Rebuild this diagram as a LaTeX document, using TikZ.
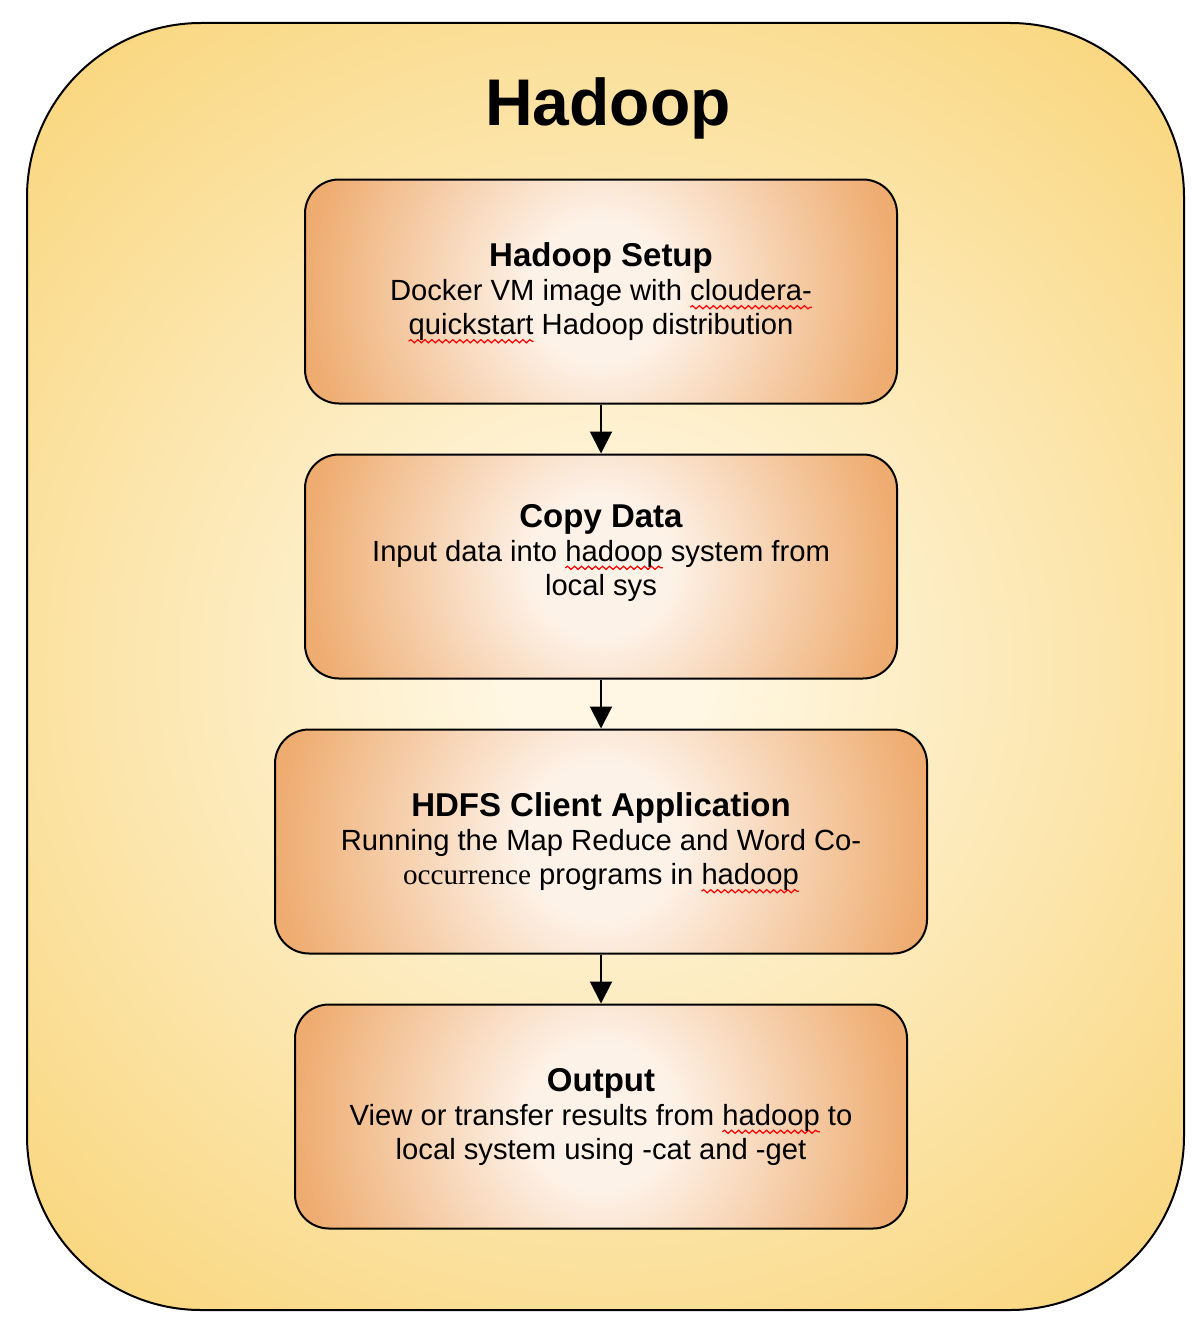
\documentclass[tikz,border=0pt]{standalone}
\usepackage{fontspec}
\setmainfont{Liberation Sans}
\newfontfamily\timesword{Liberation Serif}
\usetikzlibrary{arrows.meta,chains,positioning,decorations.pathmorphing}

\definecolor{framein}{HTML}{FFF7E3}
\definecolor{frameout}{HTML}{F9D579}
\definecolor{boxin}{HTML}{FDF2E8}
\definecolor{boxout}{HTML}{EEAC70}
\pgfdeclareradialshading{frameglow}{\pgfpoint{0bp}{0bp}}{color(0bp)=(framein); color(3bp)=(framein); color(25bp)=(frameout); color(50bp)=(frameout)}
\pgfdeclareradialshading{boxglow}{\pgfpoint{0bp}{0bp}}{color(0bp)=(boxin); color(6bp)=(boxin); color(25bp)=(boxout); color(50bp)=(boxout)}

% red wavy underline of the spell checker
\newsavebox\typobox
\newlength\typowd
\newcommand\typo[1]{\sbox\typobox{#1}\setlength\typowd{\wd\typobox}%
  \rlap{\tikz[overlay, baseline=0pt, sharp corners]
    \draw[red, line width=0.6pt, decorate,
          decoration={snake, amplitude=0.8pt, segment length=3.5pt}]
    (0pt,-3.4pt) -- (\typowd,-3.4pt);}\usebox\typobox}
\newcommand\boxhead[1]{{\fontsize{16.5}{17}\selectfont\bfseries #1}}

\begin{document}
\begin{tikzpicture}[
x=0.5pt, y=-0.5pt,
node distance=24.5pt,
 start chain = going below,
frame/.style = {rectangle, rounded corners=87pt, draw, line width=1pt,% outer yellow panel
                fill=frameout, minimum width=578.5pt, minimum height=643.5pt,
                path picture={\shade[shading=frameglow]
                    (path picture bounding box.center) circle[radius=430pt];}},
  box/.style = {rectangle, rounded corners=17pt, draw, line width=1pt,% steps of the flow
                fill=boxout, minimum width=#1, minimum height=112pt,
                align=center, font=\fontsize{14.6}{17}\selectfont, on chain,
                path picture={\shade[shading=boxglow]
                    (path picture bounding box.center) circle[radius=#1/2];}},
  arr/.style = {line width=1pt, -{Triangle[width=11pt,length=11pt]}},
                        ]
\useasboundingbox (0,0) rectangle (1200,1322);
\node[frame] (hadoop) at (605.5,666.5) {};
\node[anchor=base, font=\fontsize{33}{40}\selectfont\bfseries] (title) at (608,126) {Hadoop};
% the four steps
\node[box=296pt] (setup) at (601,291.5)
    {\boxhead{Hadoop Setup}\\ Docker VM image with \typo{cloudera-}\\
     \typo{quickstart} Hadoop distribution};
\node[box=296pt] (copy)
    {\boxhead{Copy Data}\\ Input data into \typo{hadoop} system from\\ local sys\\ ~};
\node[box=326pt] (client)
    {\boxhead{HDFS Client Application}\\ Running the Map Reduce and Word Co-\\
     {\timesword occurrence} programs in \typo{hadoop}};
\node[box=306pt] (output)
    {\boxhead{Output}\\ View or transfer results from \typo{hadoop} to\\
     local system using -cat and -get};
\draw[arr] (setup) -- (copy);
\draw[arr] (copy) -- (client);
\draw[arr] (client) -- (output);
\end{tikzpicture}
\end{document}
